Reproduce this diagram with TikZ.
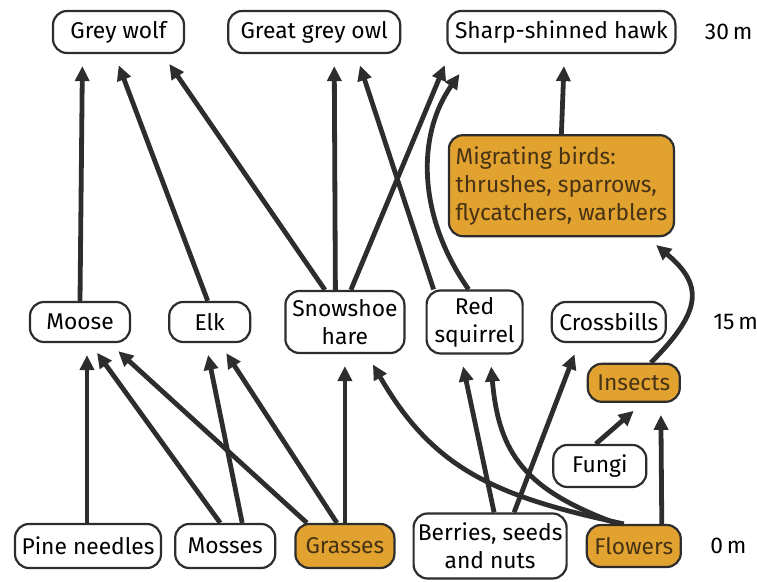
\documentclass[tikz,border=0pt]{standalone}
\usepackage{fontspec}
\setmainfont{Fira Sans}
\usepackage{tikz}
\usetikzlibrary{positioning,arrows.meta}
\definecolor{pollen}{RGB}{226,162,48}
\definecolor{bark}{RGB}{70,50,20}
\definecolor{ink}{RGB}{45,45,45}

\begin{document}
\begin{tikzpicture}[
    species/.style={rectangle, rounded corners=7pt, draw=ink, line width=1.1pt, fill=white, inner xsep=2pt, inner ysep=2pt, align=center, font=\fontsize{11.4}{14}\selectfont},
    warm/.style={species, fill=pollen, text=bark},
    height/.style={inner sep=3pt, font=\fontsize{11.4}{14}\selectfont},
    feeds/.style={draw=ink, line width=2.4pt, -{Triangle[length=7.5pt,width=7pt]}, shorten >=6pt}
]
    \useasboundingbox (0,0) rectangle (378.5pt,-291pt);

    \node (wolf) [species, minimum width=65.5pt, minimum height=21pt] at (59.25pt,-16pt) {Grey wolf};
    \node (owl) [species, minimum width=86pt, minimum height=21pt, right=21pt of wolf] {Great grey owl};
    \node (hawk) [species, minimum width=114pt, minimum height=21pt, right=22.5pt of owl] {Sharp-shinned hawk};
    \node (h30) [height, right=11pt of hawk] {30\,m};
    \node (birds) [warm, align=left, minimum width=112.5pt, minimum height=50.5pt, below=40pt of hawk] {Migrating birds:\\thrushes, sparrows,\\flycatchers, warblers};

    \node (moose) [species, minimum width=50pt, minimum height=20pt] at (40pt,-161pt) {Moose};
    \node (elk) [species, minimum width=40.5pt, minimum height=20pt, right=18.5pt of moose] {Elk};
    \node (hare) [species, minimum width=59.5pt, minimum height=31pt, right=16.5pt of elk] {Snowshoe\\hare};
    \node (squirrel) [species, minimum width=48pt, minimum height=31.5pt, right=10pt of hare] {Red\\squirrel};
    \node (crossbills) [species, minimum width=57pt, minimum height=20pt, right=13.5pt of squirrel] {Crossbills};
    \node (h15) [height, right=20pt of crossbills] {15\,m};

    \node (pine) [species, minimum width=73pt, minimum height=22pt] at (44pt,-273pt) {Pine needles};
    \node (mosses) [species, minimum width=50pt, minimum height=22pt, right=6pt of pine] {Mosses};
    \node (grasses) [warm, minimum width=49.5pt, minimum height=22pt, right=9pt of mosses] {Grasses};
    \node (berries) [species, minimum width=76.5pt, minimum height=32.5pt, right=8.5pt of grasses] {Berries, seeds\\and nuts};
    \node (flowers) [warm, minimum width=47pt, minimum height=21pt, right=9pt of berries] {Flowers};
    \node (h0) [height, right=11pt of flowers] {0\,m};

    \node (insects) [warm, minimum width=46pt, minimum height=19pt, above=60.5pt of flowers] {Insects};
    \node (fungi) [species, minimum width=46.5pt, minimum height=21pt, below=20.5pt of insects, xshift=-17pt] {Fungi};

    \draw[feeds] (moose.north) -- ([xshift=-18pt]wolf.south);
    \draw[feeds] ([xshift=-1pt]elk.north) -- ([xshift=-2pt]wolf.south);
    \draw[feeds] ([xshift=-10pt]hare.north) -- ([xshift=22pt]wolf.south);
    \draw[feeds] ([xshift=-4.75pt]hare.north) -- ([xshift=10pt]owl.south);
    \draw[feeds] ([xshift=3pt]hare.north) -- ([xshift=-56pt]hawk.south);
    \draw[feeds] ([xshift=-20.5pt]squirrel.north) -- ([xshift=21pt]owl.south);
    \draw[feeds] ([xshift=-3pt]squirrel.north) to[out=125,in=-125] ([xshift=-47.5pt,yshift=-5pt]hawk.south);
    \draw[feeds] (birds.north) -- ([xshift=1.5pt]hawk.south);

    \draw[feeds] ([xshift=-0.5pt]pine.north) -- ([xshift=3.5pt]moose.south);
    \draw[feeds] ([xshift=-2.5pt]mosses.north) -- ([xshift=5pt]moose.south);
    \draw[feeds] ([xshift=-19pt]grasses.north) -- ([xshift=14.7pt]moose.south);
    \draw[feeds] ([xshift=8.5pt]mosses.north) -- ([xshift=-2pt]elk.south);
    \draw[feeds] ([xshift=-4pt]grasses.north) -- ([xshift=5pt]elk.south);
    \draw[feeds] (grasses.north) -- (hare.south);
    \draw[feeds] ([xshift=-5pt]flowers.north) to[out=168,in=-60,looseness=1.1] ([xshift=11pt]hare.south);
    \draw[feeds] ([xshift=-8pt]flowers.north) to[out=160,in=-85,looseness=1.2] ([xshift=7.75pt]squirrel.south);
    \draw[feeds] ([xshift=2pt]berries.north) -- ([xshift=-7pt]squirrel.south);
    \draw[feeds] ([xshift=12pt]berries.north) -- ([xshift=-15pt]crossbills.south);
    \draw[feeds] ([xshift=-2pt]fungi.north) -- ([xshift=4.5pt]insects.south);
    \draw[feeds] ([xshift=14pt]flowers.north) -- ([xshift=13.5pt]insects.south);
    \draw[feeds] ([xshift=8.5pt]insects.north) to[out=45,in=-40,looseness=1.5] ([xshift=42.75pt]birds.south);
\end{tikzpicture}
\end{document}
